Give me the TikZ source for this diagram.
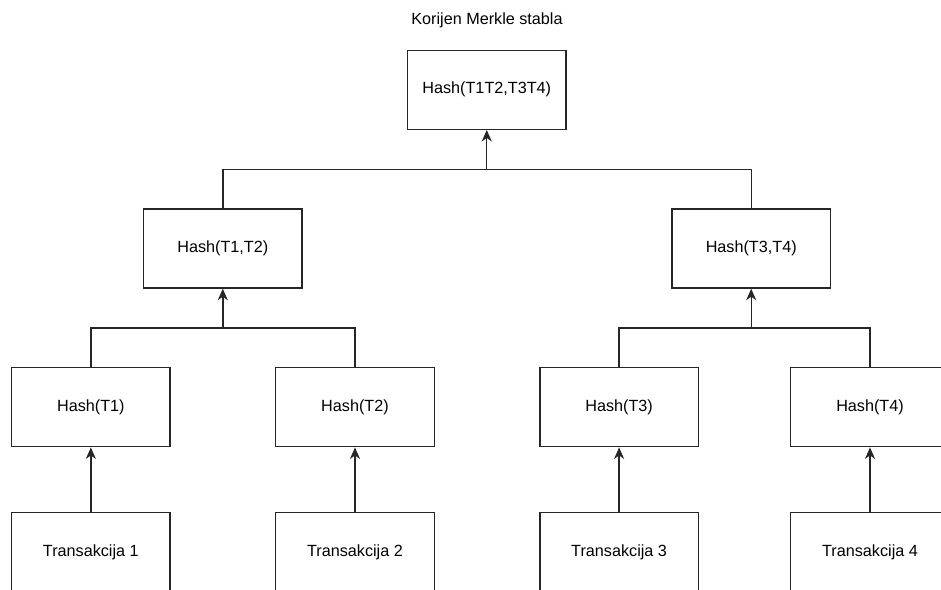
\documentclass[tikz,border=0pt]{standalone}
\usepackage{fontspec}
\setmainfont{Liberation Sans}
\usetikzlibrary{arrows.meta}
\begin{document}
\begin{tikzpicture}[x=1pt,y=-1pt,
  hbox/.style={draw=black!85, line width=1.4pt, fill=white,
    minimum width=158.5pt, minimum height=79pt, inner sep=0pt,
    font=\fontsize{16.2}{19}\selectfont},
  link/.style={draw=black!85, line width=1.4pt,
    -{Stealth[length=11.5pt,width=10pt,inset=3.5pt]}},
  plain/.style={draw=black!85, line width=1.4pt}]
\useasboundingbox (0,0) rectangle (941,589);
\clip (0,0) rectangle (941,589);

% title
\node[font=\fontsize{16.2}{19}\selectfont] (title) at (487,20.5) {Korijen Merkle stabla};

% tree nodes
\node[hbox] (root) at (486.75,89.75) {Hash(T1T2,T3T4)};
\node[hbox] (h12) at (222.8,248.5) {Hash(T1,T2)};
\node[hbox] (h34) at (751.2,248.5) {Hash(T3,T4)};
\node[hbox] (h1) at (90.85,407.2) {Hash(T1)};
\node[hbox] (h2) at (355,407.2) {Hash(T2)};
\node[hbox] (h3) at (619.1,407.2) {Hash(T3)};
\node[hbox] (h4) at (870,407.2) {Hash(T4)};
\node[hbox] (t1) at (90.85,552.2) {Transakcija 1};
\node[hbox] (t2) at (355,552.2) {Transakcija 2};
\node[hbox] (t3) at (619.1,552.2) {Transakcija 3};
\node[hbox] (t4) at (870,552.2) {Transakcija 4};

% junction points of the orthogonal connectors
\coordinate (jr) at (486.75,169.5);
\coordinate (j12) at (222.8,328);
\coordinate (j34) at (751.2,328);

% transactions to leaf hashes
\draw[link] (t1.north) -- (h1.south);
\draw[link] (t2.north) -- (h2.south);
\draw[link] (t3.north) -- (h3.south);
\draw[link] (t4.north) -- (h4.south);

% leaf hashes to intermediate hashes
\draw[plain] (h1.north) |- (j12);
\draw[plain] (h2.north) |- (j12);
\draw[link] (j12) -- (h12.south);
\draw[plain] (h3.north) |- (j34);
\draw[plain] (h4.north) |- (j34);
\draw[link] (j34) -- (h34.south);

% intermediate hashes to the root
\draw[plain] (h12.north) |- (jr);
\draw[plain] (h34.north) |- (jr);
\draw[link] (jr) -- (root.south);
\end{tikzpicture}
\end{document}
